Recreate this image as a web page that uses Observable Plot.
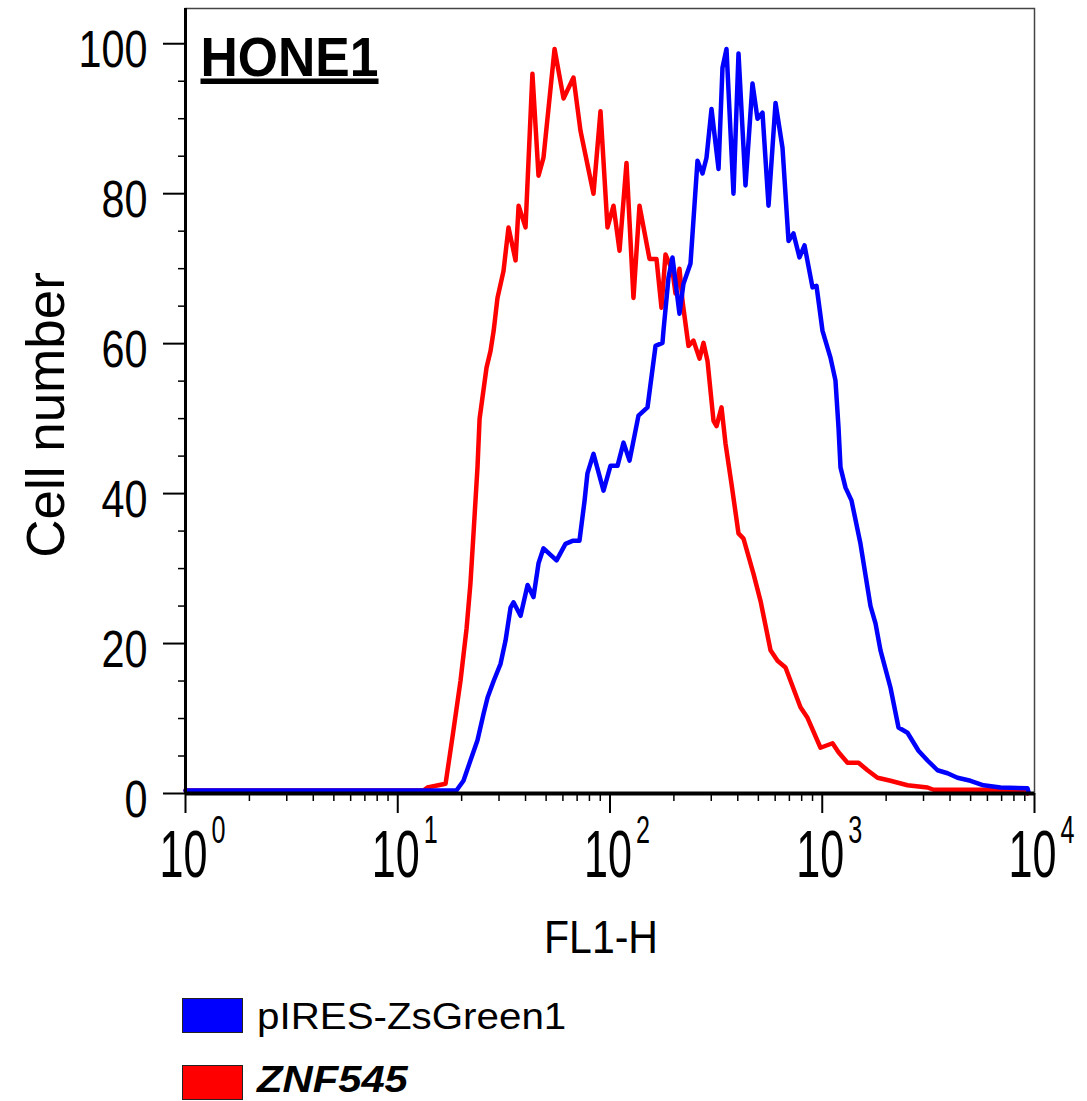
<!DOCTYPE html>
<html>
<head>
<meta charset="utf-8">
<script src="https://cdn.jsdelivr.net/npm/d3@7"></script>
<script src="https://cdn.jsdelivr.net/npm/@observablehq/plot@0.6"></script>
<style>
  html, body { margin: 0; padding: 0; background: #fff; }
  #wrap { position: relative; width: 1087px; height: 1101px; font-family: "Liberation Sans", Arial, sans-serif; overflow: hidden; }
  #chart { position: absolute; left: 0; top: 0; }
  .lg-box { position: absolute; left: 182px; width: 59px; height: 33px; border: 1px solid #222; }
  .lg-text { position: absolute; left: 257px; font-size: 36px; line-height: 30px; color: #000; white-space: nowrap; transform-origin: 0 50%; }
</style>
</head>
<body>
<div id="wrap">
  <div id="chart"></div>
  <div class="lg-box" style="top:998px;background:#0000ff;"></div>
  <div class="lg-text" style="top:1002px;transform:scaleX(1.12);">pIRES-ZsGreen1</div>
  <div class="lg-box" style="top:1065px;background:#ff0000;"></div>
  <div class="lg-text" style="top:1065px;font-weight:bold;font-style:italic;transform:scaleX(1.16);">ZNF545</div>
</div>
<script>
// ---- data ----
const fl1Red = [1, 13.2, 13.8, 16.8, 18.1, 19.75, 21.1, 22.0, 22.75, 23.75, 24.3, 26.2, 27.35, 28.3, 29.5, 31.5, 33.25, 35.9, 37.1, 40.0, 43.1, 46.05, 48.6, 54.8, 60.4, 67.3, 72.6, 83.6, 90.2, 97.3, 103.9, 110.9, 119.6, 129.0, 137.7, 153.5, 165.6, 174.8, 182.6, 197.0, 203.5, 212.5, 219.5, 234.3, 247.4, 264.1, 275.8, 288, 307.4, 317.6, 335.3, 350, 373.6, 403.1, 425.6, 474.4, 511.8, 570.6, 615.6, 671.3, 789.6, 852.2, 981.3, 1118, 1193, 1315, 1482, 1634, 1821, 2097, 2521, 3133, 3344, 5567, 8876, 9269];
const countRed = [0.4, 0.4, 0.8, 1.3, 7.5, 15, 22, 28, 34.7, 43.5, 50, 56.8, 59, 61.7, 66.1, 69.7, 75.5, 71.1, 78.4, 75.5, 96, 82.4, 84.8, 99.3, 92.7, 95.5, 88.4, 80, 91, 75.5, 78.4, 72.4, 84.1, 66.1, 78.4, 71.3, 71.3, 64.8, 71.9, 69.7, 66.7, 70, 65.7, 59.7, 60.4, 58, 60.1, 57.7, 49.7, 49, 51.5, 46.7, 41.3, 34.7, 34, 29.3, 25.7, 19.1, 17.7, 16.8, 11.5, 10.1, 6.1, 6.7, 5.5, 4.1, 4.1, 3.1, 2.1, 1.7, 1.1, 0.8, 0.5, 0.5, 0.4, 0];

const fl1Blue = [1, 18.9, 20.4, 22.0, 23.75, 25.4, 26.5, 28.3, 30.5, 32.2, 34.0, 35.1, 37.9, 40.9, 43.6, 46.05, 48.6, 56.0, 61.7, 66.6, 71.8, 75.85, 78.3, 83.6, 93.2, 100.5, 108.5, 115.8, 123.6, 136.2, 150.2, 163.9, 176.7, 178.6, 188.6, 197.0, 212.5, 221.9, 239.5, 258.4, 272.8, 284.9, 300.8, 324.6, 338.8, 353.9, 381.8, 403.1, 434.9, 469.2, 495.4, 523.0, 558.3, 602.4, 649.8, 693.5, 731.9, 781.1, 825, 899.7, 939.5, 1003, 1094, 1154, 1193, 1219, 1287, 1373, 1514, 1688, 1782, 1881, 2097, 2287, 2521, 2841, 3133, 3492, 3892, 4337, 4995, 5751, 6917, 9269, 9370];
const countBlue = [0.4, 0.4, 1.7, 4.4, 7.1, 10.7, 12.8, 15, 17.3, 20.4, 24.8, 25.5, 23.7, 27.8, 26.2, 30.7, 32.7, 31.1, 33.3, 33.7, 33.7, 39, 42.7, 45.3, 40.4, 43.7, 43.7, 46.8, 44.4, 50.4, 51.5, 59.7, 60.1, 61.7, 68.8, 71.5, 64, 68, 70.7, 84.4, 82.7, 84.8, 91.3, 83.3, 96.8, 99.3, 80, 98.7, 81.1, 94.7, 90, 90.8, 78.4, 92.1, 86.1, 73.7, 74.7, 71.5, 73.1, 67.5, 67.7, 61.7, 58.1, 55.1, 48.8, 43.5, 40.8, 39.1, 33.3, 25, 22.7, 19.1, 14.1, 8.8, 8.1, 5.7, 4.4, 3.1, 2.7, 2.1, 1.7, 1.1, 0.8, 0.7, 0.2];

const xMajor = [1, 10, 100, 1000, 10000];
const xExponent = ["0", "1", "2", "3", "4"];
const xMinor = [2, 3, 4, 5, 6, 7, 8, 9, 20, 30, 40, 50, 60, 70, 80, 90, 200, 300, 400, 500, 600, 700, 800, 900, 2000, 3000, 4000, 5000, 6000, 7000, 8000, 9000];
const yMajor = [0, 20, 40, 60, 80, 100];
const yMinor = [5, 10, 15, 25, 30, 35, 45, 50, 55, 65, 70, 75, 85, 90, 95];

const panelTitle = "HONE1";
const xTitle = "FL1-H";
const yTitle = "Cell number";

const red = fl1Red.map((x, i) => ({x, y: countRed[i]}));
const blue = fl1Blue.map((x, i) => ({x, y: countBlue[i]}));

const FS = {ylab: 52, xbase: 66, xexp: 38, xtitle: 46, ytitle: 53, ptitle: 55};

const chart = Plot.plot({
  width: 1087,
  height: 990,
  marginLeft: 185,
  marginRight: 53,
  marginTop: 8,
  marginBottom: 197,
  style: {fontFamily: "'Liberation Sans', Arial, sans-serif", background: "#fff", color: "#000"},
  x: {type: "log", domain: [1, 10000], label: null},
  y: {domain: [0, 104.7], label: null},
  marks: [
    Plot.frame({stroke: "#444", strokeWidth: 1.5}),
    Plot.axisY(yMinor, {tickSize: 7, strokeWidth: 1.5, fill: "none", label: null}),
    Plot.axisY(yMajor, {tickSize: 22, strokeWidth: 2, fill: "none", label: null}),
    Plot.axisX(xMinor, {tickSize: 8, strokeWidth: 1.5, fill: "none", label: null}),
    Plot.axisX(xMajor, {tickSize: 20, strokeWidth: 2, fill: "none", label: null}),
    Plot.line(red, {x: "x", y: "y", stroke: "#ff0000", strokeWidth: 4.5}),
    Plot.line(blue, {x: "x", y: "y", stroke: "#0000ff", strokeWidth: 4.5}),
    Plot.ruleX([1], {stroke: "#000", strokeWidth: 3}),
    Plot.ruleY([0], {stroke: "#000", strokeWidth: 4}),
    Plot.text(yMajor, {y: d => d, text: d => String(d), frameAnchor: "left", textAnchor: "end", lineAnchor: "middle", dx: -38, dy: 7, fontSize: FS.ylab}),
    Plot.text(xMajor, {x: d => d, text: () => "10", frameAnchor: "bottom", textAnchor: "end", lineAnchor: "middle", dx: 22, dy: 62, fontSize: FS.xbase}),
    Plot.text(xMajor, {x: d => d, text: (d, i) => xExponent[i], frameAnchor: "bottom", textAnchor: "start", lineAnchor: "middle", dx: 26, dy: 37, fontSize: FS.xexp}),
    Plot.text([xTitle], {frameAnchor: "bottom", textAnchor: "middle", lineAnchor: "bottom", dx: -9, dy: 159, fontSize: FS.xtitle}),
    Plot.text([yTitle], {frameAnchor: "left", rotate: -90, textAnchor: "middle", lineAnchor: "bottom", dx: -122, dy: 14, fontSize: FS.ytitle}),
    Plot.text([panelTitle], {frameAnchor: "top-left", textAnchor: "start", lineAnchor: "bottom", dx: 15, dy: 67, fontSize: FS.ptitle, fontWeight: "bold"})
  ]
});

const s = d3.select(chart);
function groupTexts(fs) {
  return s.selectAll("g").filter(function() {
    const a = this.getAttribute("font-size");
    return a != null && parseFloat(a) === fs;
  }).selectAll("text");
}
function squeeze(fs, fn) {
  groupTexts(fs).each(function() {
    this.setAttribute("textLength", fn(this.textContent));
    this.setAttribute("lengthAdjust", "spacingAndGlyphs");
  });
}
squeeze(FS.ylab, t => 23 * t.length);
squeeze(FS.xbase, () => 48);
squeeze(FS.xexp, () => 14);
squeeze(FS.xtitle, () => 114);
squeeze(FS.ptitle, () => 178);
groupTexts(FS.ptitle).style("text-decoration", "underline");

document.getElementById("chart").appendChild(chart);
</script>
</body>
</html>
